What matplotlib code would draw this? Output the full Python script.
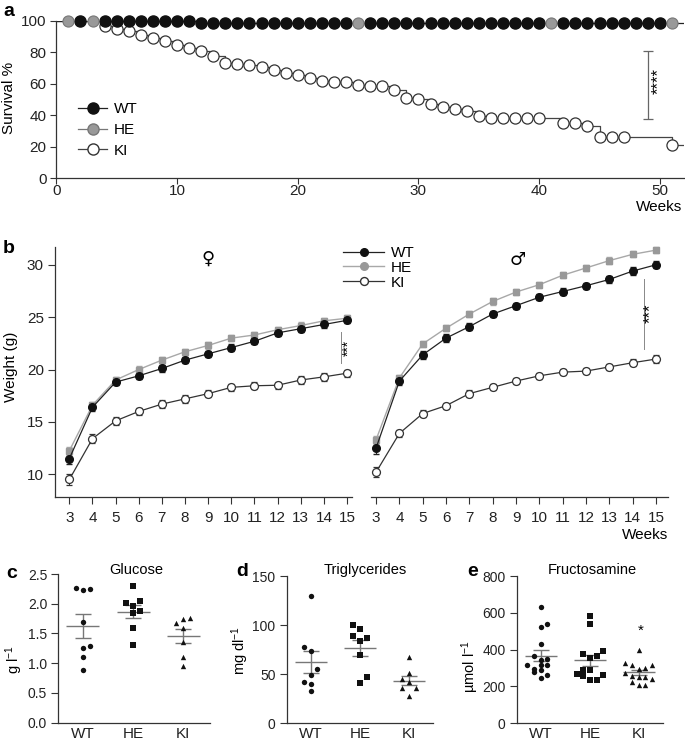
import numpy as np
import matplotlib
matplotlib.use('Agg')
import matplotlib.pyplot as plt
from matplotlib.lines import Line2D

plt.rcParams['font.family'] = ['Liberation Sans', 'DejaVu Sans']
plt.rcParams['font.size'] = 11
plt.rcParams['mathtext.fontset'] = 'custom'
plt.rcParams['mathtext.rm'] = 'Liberation Sans'
plt.rcParams['mathtext.default'] = 'regular'
plt.rcParams['axes.linewidth'] = 0.9
plt.rcParams['axes.edgecolor'] = '#333333'
plt.rcParams['xtick.color'] = '#333333'
plt.rcParams['ytick.color'] = '#333333'
plt.rcParams['xtick.labelcolor'] = '#222222'
plt.rcParams['ytick.labelcolor'] = '#222222'

# ---- a: survival ----
wt_step_weeks = [0, 12, 52]
wt_step_surv = [100, 98.5, 98.5]
wt_mark_weeks = [2, 4, 5, 6, 7, 8, 9, 10, 11, 12, 13, 14, 15, 16, 17, 18, 19, 20, 21, 22,
                 23, 24, 26, 27, 28, 29, 30, 31, 32, 33, 34, 35, 36, 37, 38, 39, 40,
                 42, 43, 44, 45, 46, 47, 48, 49, 50]
he_mark_weeks = [1, 3, 25, 41, 51]
ki_weeks = [4, 5, 6, 7, 8, 9, 10, 11, 12, 13, 14, 15, 16, 17, 18, 19, 20, 21, 22, 23,
            24, 25, 26, 27, 28, 29, 30, 31, 32, 33, 34, 35, 36, 37, 38, 39, 40, 42,
            43, 44, 45, 46, 47, 51]
ki_surv = [97, 95, 93.6, 91, 89, 87.5, 85, 82.6, 81, 78, 73.5, 72.6, 72, 70.7, 69, 66.7,
           65.4, 63.9, 62, 61.1, 61.1, 59.2, 58.3, 58.3, 56, 50.8, 50.1, 47.1, 45.4, 43.7,
           42.7, 39.5, 38.4, 38.4, 38.4, 38.4, 38.4, 35.2, 35.2, 33.3, 26, 26, 26, 20.8]

# ---- b: weight curves ----
weeks_b = [3, 4, 5, 6, 7, 8, 9, 10, 11, 12, 13, 14, 15]
fem_wt = [11.5, 16.4, 18.8, 19.4, 20.1, 20.9, 21.5, 22.1, 22.7, 23.5, 23.9, 24.3, 24.7]
fem_he = [12.25, 16.6, 19.0, 20.0, 20.9, 21.7, 22.3, 23.0, 23.3, 23.8, 24.2, 24.65, 24.9]
fem_ki = [9.5, 13.4, 15.1, 16.0, 16.7, 17.2, 17.7, 18.3, 18.45, 18.5, 19.0, 19.3, 19.65]
fem_wt_sem = [0.5, 0.35, 0.3, 0.3, 0.3, 0.3, 0.3, 0.3, 0.3, 0.3, 0.3, 0.3, 0.3]
fem_he_sem = [0.4, 0.3, 0.3, 0.3, 0.3, 0.3, 0.3, 0.3, 0.3, 0.3, 0.3, 0.3, 0.3]
fem_ki_sem = [0.5, 0.45, 0.4, 0.35, 0.35, 0.35, 0.35, 0.35, 0.35, 0.35, 0.35, 0.35, 0.35]
male_wt = [12.5, 18.9, 21.4, 23.0, 24.1, 25.3, 26.1, 26.9, 27.45, 28.0, 28.6, 29.4, 30.0]
male_he = [13.3, 19.2, 22.45, 23.95, 25.3, 26.5, 27.4, 28.1, 29.0, 29.7, 30.4, 31.0, 31.4]
male_ki = [10.2, 13.9, 15.8, 16.55, 17.7, 18.3, 18.9, 19.4, 19.75, 19.85, 20.25, 20.65, 21.0]
male_wt_sem = [0.6, 0.4, 0.35, 0.35, 0.3, 0.3, 0.3, 0.3, 0.3, 0.3, 0.3, 0.35, 0.35]
male_he_sem = [0.4, 0.3, 0.3, 0.3, 0.3, 0.3, 0.3, 0.3, 0.3, 0.3, 0.3, 0.3, 0.3]
male_ki_sem = [0.5, 0.35, 0.35, 0.3, 0.3, 0.3, 0.3, 0.3, 0.3, 0.3, 0.3, 0.35, 0.35]

# ---- c, d, e: blood parameters (values and horizontal jitter in category units) ----
groups = ['WT', 'HE', 'KI']
glu_wt = [2.26, 2.23, 2.25, 1.69, 1.25, 1.29, 1.10, 0.89]
glu_wt_dx = [-0.14, 0, 0.145, 0, 0, 0.145, 0, 0]
glu_he = [2.30, 2.01, 1.965, 2.05, 1.84, 1.885, 1.59, 1.31]
glu_he_dx = [0, -0.145, 0, 0.135, 0, 0.135, 0, 0]
glu_ki = [1.67, 1.74, 1.76, 1.59, 1.36, 1.11, 0.955]
glu_ki_dx = [-0.145, 0, 0.135, 0, 0, 0, 0]

tg_wt = [130, 77.5, 74, 55, 49, 42.5, 40, 33]
tg_wt_dx = [0, -0.137, 0, 0.13, 0, -0.137, 0, 0]
tg_he = [100.3, 95.9, 89, 86.7, 83.3, 69.7, 46.9, 40.8]
tg_he_dx = [-0.137, 0, -0.137, 0.137, 0, 0, 0.137, 0]
tg_ki = [67.3, 51, 44.9, 42.4, 35.7, 35.7, 27.9]
tg_ki_dx = [0, 0, -0.137, 0, -0.137, 0.137, 0]

fr_wt = [632, 540, 521, 432, 367, 349, 345, 318, 318, 318, 296, 290, 278, 263, 245]
fr_wt_dx = [0, 0.13, 0, 0, -0.137, 0.13, 0, -0.28, 0, 0.13, -0.137, 0, -0.137, 0.13, 0]
fr_he = [581, 540, 376, 367, 390, 354, 287, 287, 269, 258, 263, 236, 236]
fr_he_dx = [0, 0, -0.137, 0.137, 0.27, 0, -0.137, 0, -0.27, -0.137, 0.27, 0, 0.137]
fr_ki = [396, 327, 318, 318, 300, 296, 272, 258, 254, 254, 240, 227, 209, 209]
fr_ki_dx = [0, -0.27, -0.137, 0.27, 0.137, 0, -0.27, -0.137, 0, 0.137, 0.27, -0.137, 0, 0.137]

W, H = 685, 743
fig = plt.figure(figsize=(W / 100, H / 100), dpi=100)


def add_ax(left, top, right, bottom):
    # axes placed from pixel edges of the reference
    ax = fig.add_axes([left / W, 1 - bottom / H, (right - left) / W, (bottom - top) / H])
    ax.spines['top'].set_visible(False)
    ax.spines['right'].set_visible(False)
    return ax


def ftext(x, y, s, **kw):
    fig.text(x / W, 1 - y / H, s, **kw)


def step_value(weeks, step_w, step_s):
    idx = np.searchsorted(step_w, weeks, side='right') - 1
    return np.array(step_s)[idx]


# ================= panel a =================
axa = add_ax(56.3, 21, 684, 178)
ki_line_w = [0] + ki_weeks + [52]
ki_line_s = [100] + ki_surv + [ki_surv[-1]]
axa.step(ki_line_w, ki_line_s, where='post', color='#444444', lw=0.9)
axa.plot(ki_weeks, ki_surv, ls='none', marker='o', ms=8, mfc='white', mec='#333333',
         mew=0.9, clip_on=False)
axa.step(wt_step_weeks, wt_step_surv, where='post', color='#222222', lw=0.9)
axa.plot(wt_mark_weeks, step_value(wt_mark_weeks, wt_step_weeks, wt_step_surv), ls='none',
         marker='o', ms=8, mfc='#111111', mec='#111111', clip_on=False)
axa.plot(he_mark_weeks, step_value(he_mark_weeks, wt_step_weeks, wt_step_surv), ls='none',
         marker='o', ms=8, mfc='#999999', mec='#777777', mew=0.8, clip_on=False)
axa.set_xlim(0, 52)
axa.set_ylim(0, 100)
axa.set_xticks([0, 10, 20, 30, 40, 50])
axa.set_yticks([0, 20, 40, 60, 80, 100])
axa.tick_params(axis='x', length=4, pad=0.5, labelsize=11)
axa.tick_params(axis='y', length=4, pad=3, labelsize=11)
# significance bar
axa.errorbar([49], [59.3], yerr=[21.7], color='#666666', lw=0.9, capsize=3.5, capthick=0.9)
axa.text(49.85, 62, '****', rotation=90, ha='center', va='center', fontsize=12)
leg_a = [Line2D([], [], color='#222222', lw=0.9, marker='o', ms=8, mfc='#111111', mec='#111111'),
         Line2D([], [], color='#777777', lw=0.9, marker='o', ms=8, mfc='#999999', mec='#777777'),
         Line2D([], [], color='#444444', lw=0.9, marker='o', ms=8, mfc='white', mec='#333333')]
axa.legend(leg_a, groups, loc='upper left', bbox_to_anchor=(78 / W, 1 - 102 / H),
           bbox_transform=fig.transFigure, frameon=False, handlelength=1.9,
           handletextpad=0.45, labelspacing=0.45, borderpad=0, borderaxespad=0)
ftext(9, 98, 'Survival %', rotation=90, ha='center', va='center')
ftext(682, 207, 'Weeks', ha='right', va='center')
ftext(3, 12, 'a', fontsize=14, fontweight='bold', ha='left', va='center')

# ================= panel b =================
def weight_panel(ax, wt, he, ki, wt_e, he_e, ki_e):
    ax.errorbar(weeks_b, he, yerr=he_e, color='#a8a8a8', lw=1.0, marker='s', ms=4.8,
                mfc='#999999', mec='#999999', capsize=2.2, elinewidth=0.8, clip_on=False)
    ax.errorbar(weeks_b, wt, yerr=wt_e, color='#222222', lw=0.9, marker='o', ms=5.5,
                mfc='#111111', mec='#111111', capsize=2.2, elinewidth=0.8, clip_on=False)
    ax.errorbar(weeks_b, ki, yerr=ki_e, color='#333333', lw=0.9, marker='o', ms=5.7,
                mfc='white', mec='#333333', mew=0.9, capsize=2.2, elinewidth=0.8, clip_on=False)
    ax.set_ylim(7.8, 31.7)
    ax.set_xticks(weeks_b)
    ax.tick_params(axis='x', length=5, pad=5, labelsize=11)


axb1 = add_ax(55, 247, 351.7, 497.3)
weight_panel(axb1, fem_wt, fem_he, fem_ki, fem_wt_sem, fem_he_sem, fem_ki_sem)
axb1.set_xlim(2.38, 15.2)
axb1.set_yticks([10, 15, 20, 25, 30])
axb1.tick_params(axis='y', length=5, pad=3, labelsize=11)
axb1.plot([14.75, 14.75], [20.6, 23.6], color='#888888', lw=0.7)
axb1.text(15.05, 22.1, '***', rotation=90, ha='center', va='center', fontsize=10)
axb1.text(9.0, 30.6, '\u2640', ha='center', va='center', fontsize=13, family='DejaVu Sans')

axb2 = add_ax(370.7, 247, 668.3, 497.3)
weight_panel(axb2, male_wt, male_he, male_ki, male_wt_sem, male_he_sem, male_ki_sem)
axb2.set_xlim(2.77, 15.53)
axb2.spines['left'].set_visible(False)
axb2.set_yticks([])
axb2.plot([14.49, 14.49], [22.0, 28.6], color='#888888', lw=0.7)
axb2.text(14.78, 25.4, '***', rotation=90, ha='center', va='center', fontsize=12)
axb2.text(9.05, 30.45, '\u2642', ha='center', va='center', fontsize=13, family='DejaVu Sans')
leg_b = [Line2D([], [], color='#222222', lw=0.9, marker='o', ms=5.5, mfc='#111111', mec='#111111'),
         Line2D([], [], color='#a8a8a8', lw=1.0, marker='o', ms=5.5, mfc='#999999', mec='#999999'),
         Line2D([], [], color='#333333', lw=0.9, marker='o', ms=5.7, mfc='white', mec='#333333')]
axb2.legend(leg_b, groups, loc='upper left', bbox_to_anchor=(343 / W, 1 - 246 / H),
            bbox_transform=fig.transFigure, frameon=False, handlelength=2.7,
            handletextpad=0.45, labelspacing=0.05, borderpad=0, borderaxespad=0)
ftext(10.5, 367, 'Weight (g)', rotation=90, ha='center', va='center')
ftext(645, 535, 'Weeks', ha='center', va='center')
ftext(3, 249, 'b', fontsize=14, fontweight='bold', ha='left', va='center')


# ================= panels c, d, e =================
def dot_panel(ax, vals, dxs):
    markers = ['o', 's', '^']
    for i in range(3):
        v = np.array(vals[i])
        ax.scatter(i + np.array(dxs[i]), v, marker=markers[i], s=15, color='#111111',
                   linewidths=0, zorder=3, clip_on=False)
        mean = v.mean()
        sem = v.std(ddof=1) / np.sqrt(len(v))
        ax.hlines(mean, i - 0.33, i + 0.33, color='#777777', lw=1.0, zorder=2)
        ax.errorbar([i], [mean], yerr=[sem], color='#777777', lw=1.0, capsize=6,
                    capthick=1.0, zorder=2)
    ax.set_xticks([0, 1, 2])
    ax.set_xticklabels(groups)
    ax.tick_params(axis='x', length=0, pad=3, labelsize=11)
    ax.tick_params(axis='y', length=5, pad=3, labelsize=10)


axc = add_ax(58.3, 574, 210, 722.7)
dot_panel(axc, [glu_wt, glu_he, glu_ki], [glu_wt_dx, glu_he_dx, glu_ki_dx])
axc.set_xlim(-0.49, 2.53)
axc.set_ylim(0, 2.5)
axc.set_yticks([0.0, 0.5, 1.0, 1.5, 2.0, 2.5])
axc.set_yticklabels(['0.0', '0.5', '1.0', '1.5', '2.0', '2.5'])
ftext(136.5, 570, 'Glucose', ha='center', va='center', fontsize=10.5)
ftext(14, 660, 'g l$^{-1}$', rotation=90, ha='center', va='center', fontsize=10.5)
ftext(6, 573, 'c', fontsize=14, fontweight='bold', ha='left', va='center')

axd = add_ax(286.7, 576, 433.3, 723.3)
dot_panel(axd, [tg_wt, tg_he, tg_ki], [tg_wt_dx, tg_he_dx, tg_ki_dx])
axd.set_xlim(-0.5, 2.5)
axd.set_ylim(0, 150)
axd.set_yticks([0, 50, 100, 150])
ftext(365, 570, 'Triglycerides', ha='center', va='center', fontsize=10.5)
ftext(240, 650, 'mg dl$^{-1}$', rotation=90, ha='center', va='center', fontsize=10.5)
ftext(236, 571, 'd', fontsize=14, fontweight='bold', ha='left', va='center')

axe = add_ax(516.7, 576, 663, 723.3)
dot_panel(axe, [fr_wt, fr_he, fr_ki], [fr_wt_dx, fr_he_dx, fr_ki_dx])
axe.set_xlim(-0.5, 2.5)
axe.set_ylim(0, 800)
axe.set_yticks([0, 200, 400, 600, 800])
axe.text(2.04, 505, '*', ha='center', va='center', fontsize=11)
ftext(592, 570, 'Fructosamine', ha='center', va='center', fontsize=10.5)
ftext(470, 667, '\u00b5mol l$^{-1}$', rotation=90, ha='center', va='center', fontsize=10.5)
ftext(467, 571, 'e', fontsize=14, fontweight='bold', ha='left', va='center')

fig.savefig('out.png', dpi=100)
